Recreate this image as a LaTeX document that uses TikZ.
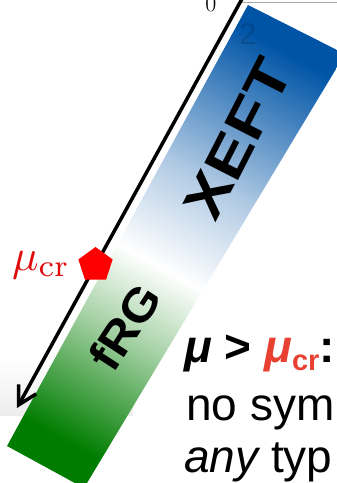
\documentclass[tikz,border=0pt]{standalone}
\usepackage{fontspec}
\newfontfamily\arialfont{Liberation Sans}
\usetikzlibrary{shapes.geometric, arrows.meta, positioning}
\definecolor{xeftblue}{RGB}{0, 84, 166}
\definecolor{frggreen}{RGB}{0, 125, 0}
\definecolor{crred}{RGB}{232, 65, 50}
\definecolor{labelred}{RGB}{225, 10, 10}
\pgfdeclareverticalshading{bandfade}{100bp}{
    color(0bp)=(frggreen); color(24bp)=(frggreen); color(38bp)=(frggreen!35);
    color(47bp)=(white); color(58bp)=(xeftblue!30); color(76bp)=(xeftblue); color(100bp)=(xeftblue)}
\tikzset{
    bandtext/.style={
        font=\arialfont\bfseries\fontsize{55}{55}\selectfont, inner sep=0pt
    },
    flowarrow/.style={-{Straight Barb[length=18pt, width=20pt]}, line width=3.5pt, black},
    bodytext/.style={font=\arialfont\fontsize{46}{52}\selectfont, inner sep=0pt, anchor=base west},
}

\begin{document}
\begin{tikzpicture}[x=1pt, y=-1pt]
    \useasboundingbox (0,0) rectangle (337,483);
    \clip (0,0) rectangle (337,483);

    % faint shadow behind the arrow end
    \shade[top color=white, bottom color=gray!14] (0,358) rectangle (133,415);

    % plot frame remnant
    \draw[gray!70, line width=0.8pt] (240,-3) -- (240,2) -- (340,2);
    \node[font=\fontsize{24}{24}\selectfont, anchor=base, inner sep=0pt] (zero) at (211,11.5) {0};

    % scale band
    \shade[shading=bandfade, shading angle=-29]
        (7,446) -- (248,5) -- (345,54) -- (84,488) -- cycle;
    \node[font=\arialfont\fontsize{30}{30}\selectfont, text=black, text opacity=0.15] (ghost) at (248,34) {2};
    \node[bandtext, rotate=63, xscale=1.22] (xeft) at (238,139) {XEFT};
    \node[bandtext, rotate=57, xscale=1.1, font=\arialfont\bfseries\fontsize{46}{46}\selectfont] (frg) at (125,327) {fRG};

    % flow direction
    \coordinate (flowstart) at (243,-3);
    \coordinate (flowend) at (17,408);
    \draw[flowarrow] (flowstart) -- (flowend);

    % critical scale
    \node[regular polygon, regular polygon sides=5, fill=red, minimum size=36pt, inner sep=0pt] (crit) at (95.5,265) {};
    \node[text=labelred, scale=4.4, inner sep=0pt, left=9pt of crit] (critlabel) {$\mu_{\mathrm{cr}}$};

    % regime text
    \node[bodytext] (cond) at (184,362) {\bfseries\itshape μ\upshape{} > \color{crred}\itshape μ\upshape\raisebox{-8pt}{\fontsize{29}{29}\selectfont cr}\color{black}:};
    \node[bodytext] (nosym) at (186,420) {no sym};
    \node[bodytext] (anytype) at (184,472) {\itshape any\upshape{} typ};
\end{tikzpicture}
\end{document}
